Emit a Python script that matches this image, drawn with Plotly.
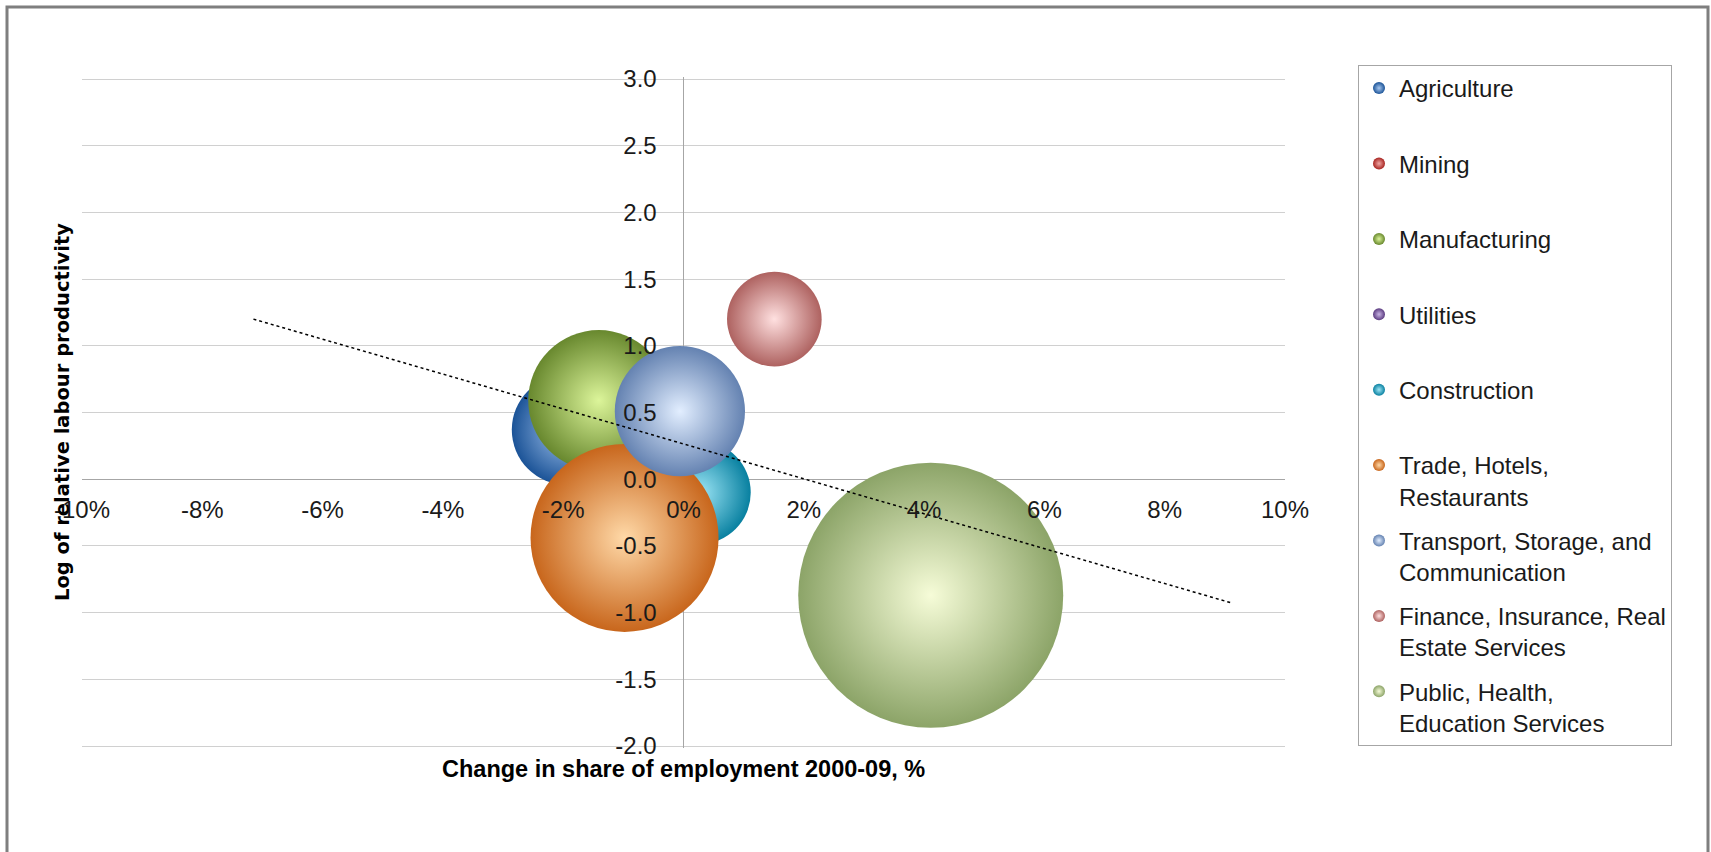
import plotly.graph_objects as go

# ---------------- data ----------------
sectors = [
    "Agriculture",
    "Mining",
    "Manufacturing",
    "Utilities",
    "Construction",
    "Trade, Hotels,<br>Restaurants",
    "Transport, Storage, and<br>Communication",
    "Finance, Insurance, Real<br>Estate Services",
    "Public, Health,<br>Education Services",
]
# change in share of employment 2000-09 (%), None = not visible on chart
emp_change = [-1.94, None, -1.41, None, 0.26, -0.98, -0.06, 1.51, 4.11]
# log of relative labour productivity
log_prod = [0.37, None, 0.59, None, -0.10, -0.44, 0.51, 1.20, -0.87]
# bubble size (share of employment)
bubble_size = [5.0, None, 8.2, None, 4.4, 14.6, 7.0, 3.7, 29.0]

# linear trend line end points
trend_x = [-7.15, 9.13]
trend_y = [1.20, -0.93]

x_tick_vals = [-10, -8, -6, -4, -2, 0, 2, 4, 6, 8, 10]
x_tick_labels = ["-10%", "-8%", "-6%", "-4%", "-2%", "0%", "2%", "4%", "6%", "8%", "10%"]
y_tick_vals = [-2.0, -1.5, -1.0, -0.5, 0.0, 0.5, 1.0, 1.5, 2.0, 2.5, 3.0]
y_tick_labels = ["-2.0", "-1.5", "-1.0", "-0.5", "0.0", "0.5", "1.0", "1.5", "2.0", "2.5", "3.0"]

# ---------------- styles ----------------
edge_colors = ["#1b5397", "#a82420", "#68882e", "#5c3c81", "#0880a0",
               "#c8661c", "#6482b1", "#ae6260", "#8ca468"]
center_colors = ["#a8c8f0", "#f0a8a6", "#dcf59a", "#c8b4e4", "#9ee6f6",
                 "#ffd9a8", "#e2eeff", "#ffe0e0", "#f6fcd8"]

W, H = 1711, 852
ML, MR, MT, MB = 82, 426, 77, 104
PW = W - ML - MR
PH = H - MT - MB
MAX_BUBBLE_PX = 265
# plotly area mode: diameter = sqrt(2 * value / sizeref)
sizeref = 2.0 * max(v for v in bubble_size if v is not None) / MAX_BUBBLE_PX ** 2

X_RANGE = [-10, 10]
Y_RANGE = [-2.015, 3.015]

fig = go.Figure()
for i, name in enumerate(sectors):
    label = name if "<br>" in name else name + "<br> "
    marker = dict(color=edge_colors[i],
                  gradient=dict(type="radial", color=center_colors[i]),
                  line=dict(width=0), opacity=1)
    if bubble_size[i] is not None:
        marker.update(size=[bubble_size[i]], sizemode="area", sizeref=sizeref)
    fig.add_trace(go.Scatter(
        x=[emp_change[i]], y=[log_prod[i]], mode="markers", name=label,
        legendgroup=str(i), marker=marker, hoverinfo="name+x+y",
    ))

fig.add_trace(go.Scatter(
    x=trend_x, y=trend_y, mode="lines", showlegend=False,
    line=dict(color="#000000", dash="dot", width=1.5), hoverinfo="skip",
))

tick_font = dict(family="Liberation Sans, Arial, sans-serif", size=24, color="#1a1a1a")

fig.update_layout(
    width=W, height=H,
    margin=dict(l=ML, r=MR, t=MT, b=MB, autoexpand=False),
    paper_bgcolor="white", plot_bgcolor="white",
    xaxis=dict(range=X_RANGE, anchor="free", position=(0 - Y_RANGE[0]) / (Y_RANGE[1] - Y_RANGE[0]),
               tickmode="array", tickvals=x_tick_vals, ticktext=x_tick_labels,
               showgrid=False, zeroline=True, zerolinecolor="#a6a6a6", zerolinewidth=1,
               showline=False, ticks="outside", ticklen=9, tickcolor="rgba(0,0,0,0)",
               tickfont=tick_font, automargin=False, fixedrange=True),
    yaxis=dict(range=Y_RANGE, anchor="free", position=(0 - X_RANGE[0]) / (X_RANGE[1] - X_RANGE[0]),
               tickmode="array", tickvals=y_tick_vals, ticktext=y_tick_labels,
               showgrid=True, gridcolor="#d0d0d0", gridwidth=1,
               zeroline=True, zerolinecolor="#a6a6a6", zerolinewidth=1,
               showline=False, ticks="outside", ticklen=22, tickcolor="rgba(0,0,0,0)",
               tickfont=tick_font, automargin=False, fixedrange=True),
    legend=dict(x=(1358 - ML) / PW, y=(H - MB - 65) / PH, xanchor="left", yanchor="top",
                bgcolor="white", bordercolor="#a6a6a6", borderwidth=1,
                font=dict(family="Liberation Sans, Arial, sans-serif", size=24, color="#1a1a1a"),
                itemsizing="constant", valign="top", tracegroupgap=10,
                maxheight=900,
                itemclick=False, itemdoubleclick=False),
    showlegend=True,
    annotations=[
        dict(text="<b>Log of relative labour productivity</b>", textangle=-90,
             xref="paper", yref="paper", x=(62 - ML) / PW, y=(H - MB - 412) / PH,
             xanchor="center", yanchor="middle", showarrow=False,
             font=dict(family="DejaVu Sans, Verdana, sans-serif", size=19.5, color="#000000")),
        dict(text="<b>Change in share of employment 2000-09, %</b>",
             xref="paper", yref="paper", x=0.5, y=(H - MB - 769) / PH,
             xanchor="center", yanchor="middle", showarrow=False,
             font=dict(family="Liberation Sans, Arial, sans-serif", size=23.5, color="#000000")),
    ],
    shapes=[
        dict(type="rect", xref="paper", yref="paper", layer="below",
             x0=(7 - ML) / PW, x1=(1708 - ML) / PW,
             y0=(H - MB - 900) / PH, y1=(H - MB - 7) / PH,
             line=dict(color="#7f7f7f", width=3), fillcolor="rgba(0,0,0,0)"),
    ],
)

fig.write_html("out.html")
